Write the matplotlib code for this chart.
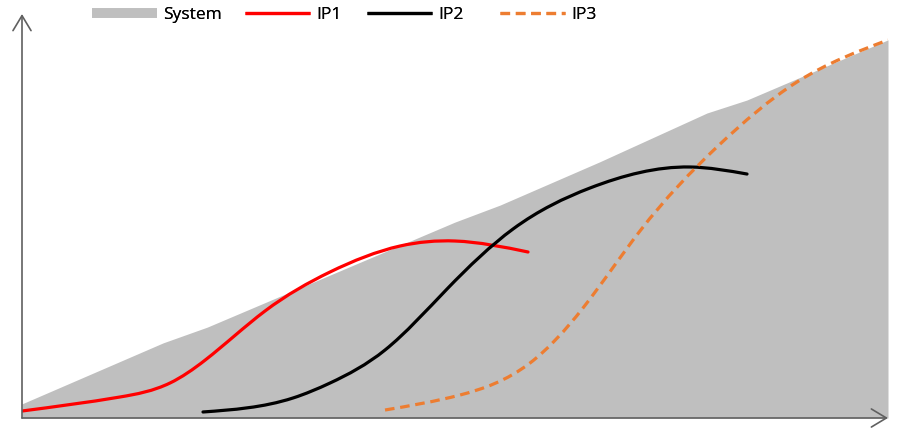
import numpy as np
import matplotlib.pyplot as plt
from matplotlib.lines import Line2D
from matplotlib.patches import FancyArrowPatch, PathPatch
from matplotlib.path import Path

# --- data (arbitrary 0-100 units) ---
sys_x = [0, 16.3, 21.4, 50.0, 55.2, 66.7, 79.1, 83.7, 100]
sys_y = [3.5, 18.6, 22.5, 48.5, 52.7, 63.4, 75.5, 78.7, 93.6]

ip1_x = [0, 11.32, 17.09, 21.13, 28.06, 35.57, 43.65, 50.00, 58.43]
ip1_y = [1.73, 5.20, 8.66, 14.3, 26.48, 36.14, 42.57, 43.81, 41.09]

ip2_x = [20.90, 31.29, 35.57, 41.92, 49.08, 56.70, 65.59, 77.13, 83.72]
ip2_y = [1.49, 4.95, 8.66, 16.83, 31.93, 46.78, 56.93, 62.13, 60.39]

ip3_x = [41.92, 50.58, 58.66, 64.78, 71.36, 80.25, 89.49, 100]
ip3_y = [1.98, 5.69, 13.61, 27.23, 46.29, 67.08, 83.17, 93.56]

labels = ['System', 'IP1', 'IP2', 'IP3']


def smooth_path(xs, ys):
    # natural cubic spline y(x) through the points, drawn as Bezier segments
    x = np.asarray(xs, float)
    y = np.asarray(ys, float)
    n = len(x)
    h = np.diff(x)
    d = np.diff(y) / h
    A = np.zeros((n, n))
    b = np.zeros(n)
    A[0, 0], A[0, 1], b[0] = 2, 1, 3 * d[0]
    A[-1, -2], A[-1, -1], b[-1] = 1, 2, 3 * d[-1]
    for i in range(1, n - 1):
        A[i, i - 1] = h[i]
        A[i, i] = 2 * (h[i - 1] + h[i])
        A[i, i + 1] = h[i - 1]
        b[i] = 3 * (h[i] * d[i - 1] + h[i - 1] * d[i])
    m = np.linalg.solve(A, b)
    verts = [(x[0], y[0])]
    codes = [Path.MOVETO]
    for i in range(n - 1):
        verts += [(x[i] + h[i] / 3, y[i] + m[i] * h[i] / 3),
                  (x[i + 1] - h[i] / 3, y[i + 1] - m[i + 1] * h[i] / 3),
                  (x[i + 1], y[i + 1])]
        codes += [Path.CURVE4] * 3
    return Path(verts, codes)


plt.rcParams['font.family'] = ['Open Sans', 'DejaVu Sans']

fig = plt.figure(figsize=(8.97, 4.28), dpi=100)
ax = fig.add_axes([22/897, 10/428, 866/897, 404/428])

gray = '#BFBFBF'
red = '#FF0000'
orange = '#ED7D31'
dash = (0, (3, 1.8))

ax.fill_between(sys_x, 0, sys_y, color=gray, lw=0)
ax.add_patch(PathPatch(smooth_path(ip1_x, ip1_y), fill=False, ec=red, lw=2.3, capstyle='round'))
ax.add_patch(PathPatch(smooth_path(ip2_x, ip2_y), fill=False, ec='black', lw=2.3, capstyle='round'))
ax.add_patch(PathPatch(smooth_path(ip3_x, ip3_y), fill=False, ec=orange, lw=2.3, ls=dash))

ax.set_xlim(0, 100)
ax.set_ylim(0, 100)
ax.axis('off')

# axes with arrows
axis_col = '#606060'
for end in [(1, 0), (0, 1)]:
    ax.add_patch(FancyArrowPatch((0, 0), end, transform=ax.transAxes,
                                 arrowstyle='->,head_length=1.08,head_width=0.65',
                                 mutation_scale=10, color=axis_col, lw=1.2,
                                 shrinkA=0, shrinkB=0, clip_on=False))

handles = [Line2D([], [], color=gray, lw=7, solid_capstyle='butt'),
           Line2D([], [], color=red, lw=2.3, solid_capstyle='butt'),
           Line2D([], [], color='black', lw=2.3, solid_capstyle='butt'),
           Line2D([], [], color=orange, lw=2.3, ls=dash)]
starts = [92, 245, 367, 500]
for h, lab, x0 in zip(handles, labels, starts):
    leg = fig.legend([h], [lab], frameon=False, loc='center left',
                     bbox_to_anchor=(x0/897, 1 - 15/428), borderpad=0,
                     borderaxespad=0, handlelength=3.75, handletextpad=0.35,
                     fontsize=12.5)
    fig.add_artist(leg)

fig.savefig('out.png', dpi=100)
